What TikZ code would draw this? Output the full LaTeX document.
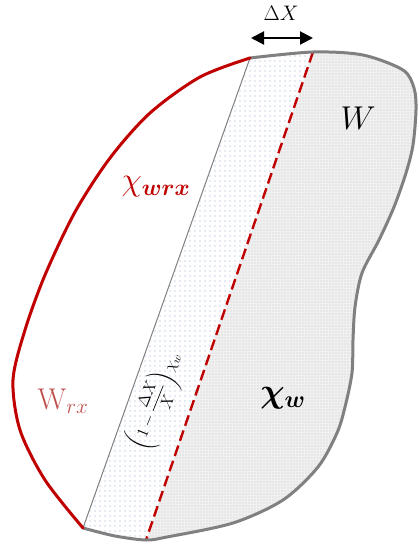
\RequirePackage{fix-cm}
\documentclass[tikz,border=0pt]{standalone}
\usepackage{amsmath}
\usepackage{amssymb}
\usepackage{bm}
\usetikzlibrary{arrows.meta,patterns.meta}
\definecolor{bred}{HTML}{C00000}
\definecolor{pred}{HTML}{C0504D}
\definecolor{outl}{HTML}{808080}
\definecolor{wgrey}{HTML}{F0F0F0}
\definecolor{dotb}{HTML}{8FAAD6}
\tikzset{
  redrim/.style   ={draw=bred, line width=3pt, line cap=round, line join=round},
  greyrim/.style  ={draw=outl, line width=3pt, line cap=round, line join=round},
  cut/.style      ={draw=bred, line width=2.4pt, dash pattern=on 11pt off 5pt},
  stripedge/.style={draw=outl, line width=1pt},
  wzone/.style    ={fill=wgrey, postaction={pattern={Dots[distance=3pt,radius=0.6pt]}, pattern color=gray!40}},
  stripzone/.style={fill=white, postaction={pattern={Dots[distance=5pt,radius=0.6pt]}, pattern color=dotb}},
  dimarr/.style   ={{Triangle[length=13pt,width=13pt]}-{Triangle[length=13pt,width=13pt]}, line width=2pt, draw=black},
  lbl/.style      ={inner sep=0pt, text=black},
}

\begin{document}
\begin{tikzpicture}[x=1pt,y=-1pt]
  \useasboundingbox (0,0) rectangle (419,551);

  % ---- strip corners ----
  \coordinate (sTL) at (250,58);
  \coordinate (sTR) at (313,52);
  \coordinate (sBL) at (83,528);
  \coordinate (sBR) at (146,540);

  % ---- region W (right of the cut) ----
  \fill[wzone] plot[smooth] coordinates {(313,52) (363,55) (403,70) (414,88) (416,110)
        (413,145) (406,173) (394,207) (379,240) (362,273) (355,307) (353,340) (352,373)
        (345,407) (337,433) (318,467) (283,500) (233,523) (167,537) (146,540)} -- cycle;

  % ---- the strip of width DX ----
  \fill[stripzone] (sTL) -- (sTR) -- (sBR) -- (sBL) -- cycle;
  \draw[stripedge] (sTL) -- (sBL);
  \draw[cut] (sTR) -- (sBR);

  % ---- outlines ----
  \draw[greyrim] plot[smooth] coordinates {(250,58) (313,52) (363,55) (403,70) (414,88)
        (416,110) (413,145) (406,173) (394,207) (379,240) (362,273) (355,307) (353,340)
        (352,373) (345,407) (337,433) (318,467) (283,500) (233,523) (167,537) (146,540)
        (115,536) (83,528)};
  \draw[redrim] plot[smooth] coordinates {(250,58) (200,77) (150,113) (110,158) (75,212)
        (45,275) (25,330) (13,380) (20,430) (45,480) (83,528)};

  % ---- width of the strip ----
  \coordinate (dL) at (251,38);
  \coordinate (dR) at (313,38);
  \draw[dimarr] (dL) -- (dR);
  \node[lbl, font=\fontsize{21}{23}\selectfont] (dx) at (281,13) {$\Delta X$};

  % ---- labels ----
  \node[lbl, text=bred, font=\fontsize{33}{35}\selectfont] (chiwrx) at (156,187) {$\chi_{\bm{wrx}}$};
  \node[lbl, font=\fontsize{33}{35}\selectfont] (wlab) at (358,118) {$W$};
  \node[lbl, font=\fontsize{34}{36}\selectfont] (chiw) at (283,398) {$\bm{\chi_w}$};
  \node[lbl, text=pred, font=\fontsize{30}{32}\selectfont] (wrx) at (63,401) {$\mathrm{W}_{rx}$};
  \node[lbl, rotate=68, font=\fontsize{16}{18}\selectfont] (part) at (157,401)
      {$\displaystyle\left(1-\frac{\Delta X}{X}\right)\chi_w$};

\end{tikzpicture}
\end{document}
